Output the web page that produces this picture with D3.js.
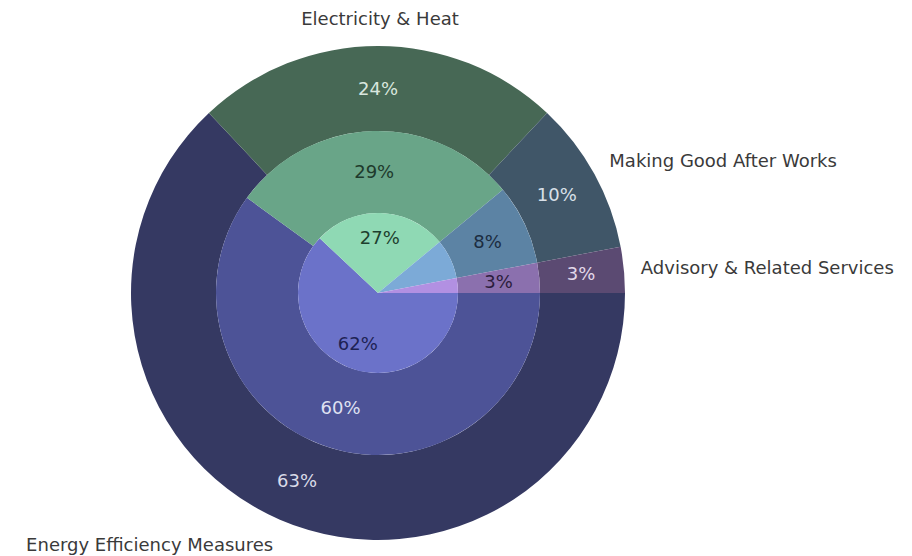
<!DOCTYPE html>
<html><head><meta charset="utf-8">
<script src="https://cdn.jsdelivr.net/npm/d3@7"></script>
<style>html,body{margin:0;padding:0;background:#fff;}svg{display:block;font-family:"DejaVu Sans",Verdana,sans-serif;}</style>
</head><body><svg id="c" width="912" height="556"></svg>
<script>
const categories = ["Energy Efficiency Measures","Electricity & Heat","Making Good After Works","Advisory & Related Services"];
const outerValues  = [63, 24, 10, 3];
const middleValues = [60, 29, 8, 3];
const innerValues  = [62, 27, 8, 3];
const outerColors  = ["#353962","#476855","#405668","#5b4a72"];
const middleColors = ["#4d5397","#69a588","#5c83a4","#8b70ae"];
const innerColors  = ["#6b72c9","#8fd9b4","#7caad7","#b290e2"];
const outerText  = ["#d9dbe8","#d9e6de","#d9e0e8","#e2d9ea"];
const middleText = ["#dfe1f2","#1e3a2c","#1b2c40","#2c1d3c"];
const innerText  = ["#1e2254","#1e3f2e","#1b2c40","#2c1d3c"];

const svg = d3.select("#c");
const cx = 378, cy = 293;
const g = svg.append("g").attr("transform", `translate(${cx},${cy})`);

const pie = d3.pie().sort(null).value(d => d)
  .startAngle(Math.PI/2).endAngle(Math.PI/2 + 2*Math.PI);

const rings = [
  {vals: outerValues, colors: outerColors, text: outerText, r0: 162, r1: 247, lr: 204, minLabel: 0},
  {vals: middleValues, colors: middleColors, text: middleText, r0: 80, r1: 162, lr: 121, minLabel: 0},
  {vals: innerValues, colors: innerColors, text: innerText, r0: 0, r1: 80, lr: 55, minLabel: 10}
];

rings.forEach(ring => {
  const arcs = pie(ring.vals);
  const arc = d3.arc().innerRadius(ring.r0).outerRadius(ring.r1);
  g.append("g").selectAll("path").data(arcs).join("path")
    .attr("d", arc).attr("fill", (d,i) => ring.colors[i]);
  const la = d3.arc().innerRadius(ring.lr).outerRadius(ring.lr);
  g.append("g").selectAll("text").data(arcs.filter(d => d.data >= ring.minLabel)).join("text")
    .attr("transform", d => `translate(${la.centroid(d)})`)
    .attr("text-anchor","middle").attr("dy","0.35em")
    .attr("font-size", 18)
    .attr("fill", d => ring.text[d.index])
    .text(d => d.data + "%");
});

// outside category labels
const outerArcs = pie(outerValues);
g.append("g").selectAll("text").data(outerArcs).join("text")
  .each(function(d){
    const a = (d.startAngle + d.endAngle)/2;
    const s = Math.sin(a), c = Math.cos(a);
    const x = 264*s, y = -274*c;
    const anchor = s > 0.15 ? "start" : (s < -0.15 ? "end" : "middle");
    d3.select(this).attr("x", x + (anchor === "middle" ? 2 : 0)).attr("y", y).attr("dy","0.35em")
      .attr("text-anchor", anchor);
  })
  .attr("font-size", 18).attr("fill","#3a3a3a")
  .text((d,i) => categories[i]);
</script></body></html>
